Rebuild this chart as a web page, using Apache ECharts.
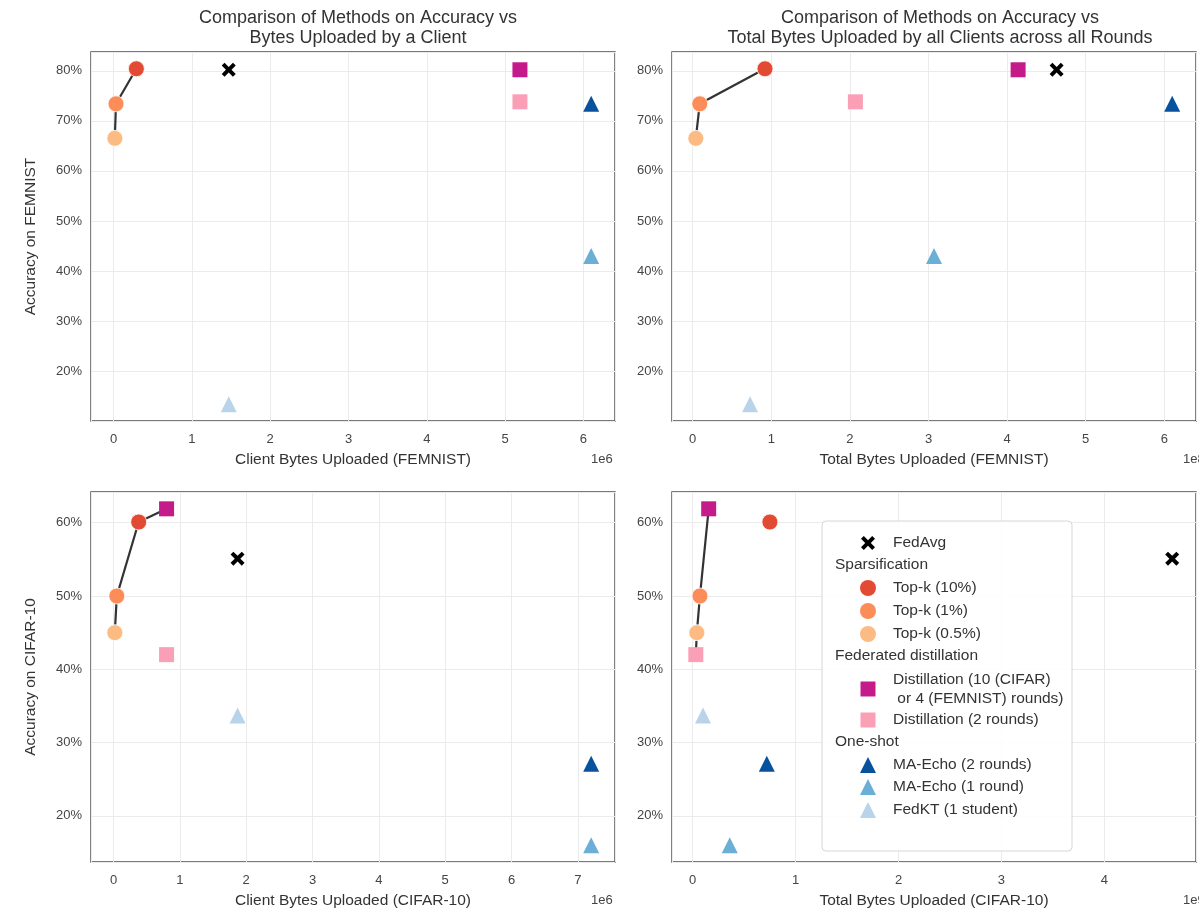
<!DOCTYPE html>
<html>
<head>
<meta charset="utf-8">
<script src="https://cdn.jsdelivr.net/npm/echarts@6/dist/echarts.min.js"></script>
<style>
html,body{margin:0;padding:0;background:#fff;}
#chart{width:1199px;height:915px;}
</style>
</head>
<body>
<div id="chart"></div>
<script>
// ---- data ----
const methods = ["FedAvg", "Top-k (10%)", "Top-k (1%)", "Top-k (0.5%)",
  "Distillation (10 (CIFAR)\n or 4 (FEMNIST) rounds)", "Distillation (2 rounds)",
  "MA-Echo (2 rounds)", "MA-Echo (1 round)", "FedKT (1 student)"];
const groups = ["Sparsification", "Federated distillation", "One-shot"];
// accuracy (%)
const accFEMNIST = [80.2, 80.4, 73.4, 66.5, 80.2, 73.8, 73.4, 43.0, 13.4];
const accCIFAR   = [55.1, 60.1, 50.0, 45.0, 61.9, 42.0, 27.1, 16.0, 33.7];
// bytes uploaded
const clientBytesFEMNIST = [1.47e6, 0.29e6, 0.03e6, 0.015e6, 5.19e6, 5.19e6, 6.1e6, 6.1e6, 1.47e6];
const totalBytesFEMNIST  = [4.63e8, 0.92e8, 0.09e8, 0.04e8, 4.14e8, 2.07e8, 6.1e8, 3.07e8, 0.73e8];
const clientBytesCIFAR   = [1.87e6, 0.38e6, 0.05e6, 0.02e6, 0.8e6, 0.8e6, 7.2e6, 7.2e6, 1.87e6];
const totalBytesCIFAR    = [4.66e9, 0.75e9, 0.07e9, 0.04e9, 0.155e9, 0.03e9, 0.72e9, 0.36e9, 0.10e9];
// pareto frontier (method indices) per panel
const frontierTL = [3, 2, 1];
const frontierTR = [3, 2, 1];
const frontierBL = [3, 2, 1, 4];
const frontierBR = [5, 3, 2, 4];
const xUnits = [1e6, 1e8, 1e6, 1e9];
const xUnitLabels = ["1e6", "1e8", "1e6", "1e9"];
const xNames = ["Client Bytes Uploaded (FEMNIST)", "Total Bytes Uploaded (FEMNIST)",
  "Client Bytes Uploaded (CIFAR-10)", "Total Bytes Uploaded (CIFAR-10)"];
const yNames = ["Accuracy on FEMNIST", "Accuracy on CIFAR-10"];
const titles = ["Comparison of Methods on Accuracy vs\nBytes Uploaded by a Client",
  "Comparison of Methods on Accuracy vs\nTotal Bytes Uploaded by all Clients across all Rounds"];

// ---- styles ----
const XPTS = [[2,0],[5,3],[8,0],[10,2],[7,5],[10,8],[8,10],[5,7],[2,10],[0,8],[3,5],[0,2]];
const XPATH = 'path://M2,0 L5,3 L8,0 L10,2 L7,5 L10,8 L8,10 L5,7 L2,10 L0,8 L3,5 L0,2 Z';
const colors = ['#000000', '#e34a33', '#fc8d59', '#fdbb84', '#c51b8a', '#fa9fb5', '#08519c', '#6baed6', '#b9d4ea'];
const symbols = [XPATH, 'circle', 'circle', 'circle', 'rect', 'rect', 'triangle', 'triangle', 'triangle'];
const sizes = [14, 16, 16, 16, 15, 15, 16, 16, 16];

const panels = [
  {x: clientBytesFEMNIST, y: accFEMNIST, f: frontierTL},
  {x: totalBytesFEMNIST,  y: accFEMNIST, f: frontierTR},
  {x: clientBytesCIFAR,   y: accCIFAR,   f: frontierBL},
  {x: totalBytesCIFAR,    y: accCIFAR,   f: frontierBR}
];
const gridBoxes = [
  {left: 91, top: 52, width: 524, height: 369},
  {left: 672, top: 52, width: 526, height: 369},
  {left: 91, top: 492, width: 524, height: 370},
  {left: 672, top: 492, width: 526, height: 370}
];
const FONT = 'Liberation Sans, Arial, sans-serif';

function ext(arr) {
  const mn = Math.min(...arr), mx = Math.max(...arr), m = 0.05 * (mx - mn);
  return [mn - m, mx + m];
}
function isMult(v, u) { const r = v / u; return Math.abs(r - Math.round(r)) < 1e-6; }

const grids = [], xAxes = [], yAxes = [], series = [], graphics = [];
panels.forEach((p, i) => {
  grids.push(Object.assign({show: true, borderColor: '#4d4d4d', borderWidth: 1.4, backgroundColor: '#fff'}, gridBoxes[i]));
  const xe = ext(p.x), ye = ext(p.y), u = xUnits[i];
  xAxes.push({
    gridIndex: i, type: 'value', min: xe[0], max: xe[1], minInterval: u, maxInterval: u, splitNumber: 8,
    axisLine: {show: false}, axisTick: {show: false},
    splitLine: {show: true, lineStyle: {color: '#ebebeb', width: 1}},
    axisLabel: {color: '#444', fontSize: 13, margin: 12, fontFamily: FONT,
      formatter: v => isMult(v, u) ? String(Math.round(v / u)) : ''},
    name: xNames[i], nameLocation: 'middle', nameGap: 31,
    nameTextStyle: {color: '#333', fontSize: 15.5, fontFamily: FONT}
  });
  yAxes.push({
    gridIndex: i, type: 'value', min: ye[0], max: ye[1], minInterval: 10, maxInterval: 10, splitNumber: 8,
    axisLine: {show: false}, axisTick: {show: false},
    splitLine: {show: true, lineStyle: {color: '#ebebeb', width: 1}},
    axisLabel: {color: '#444', fontSize: 13, margin: 9, fontFamily: FONT,
      formatter: v => isMult(v, 10) ? Math.round(v) + '%' : ''},
    name: (i % 2 === 0) ? yNames[i >> 1] : '', nameLocation: 'middle', nameGap: 52,
    nameTextStyle: {color: '#333', fontSize: 15.5, fontFamily: FONT}
  });
  series.push({
    type: 'line', xAxisIndex: i, yAxisIndex: i, z: 2, silent: true,
    data: p.f.map(k => [p.x[k], p.y[k]]), symbol: 'none',
    lineStyle: {color: '#333', width: 2.2}
  });
  methods.forEach((m, k) => {
    series.push({
      type: 'scatter', name: m, xAxisIndex: i, yAxisIndex: i, z: 3,
      symbol: symbols[k], symbolSize: sizes[k],
      itemStyle: {color: colors[k], opacity: 1, borderColor: '#fff', borderWidth: (k >= 1 && k <= 3) ? 0.8 : 0},
      data: [[p.x[k], p.y[k]]]
    });
  });
  const gb = gridBoxes[i];
  graphics.push({
    type: 'text', x: (i % 2 === 1) ? gb.left + gb.width - 15 : gb.left + gb.width - 24,
    y: gb.top + gb.height + 32,
    style: {text: xUnitLabels[i], fontSize: 13, fill: '#444', fontFamily: FONT}
  });
});

// legend (built as graphic, inside bottom-right panel)
const L = {x: 822, y: 521, w: 250, h: 330};
graphics.push({type: 'rect', shape: {x: L.x, y: L.y, width: L.w, height: L.h, r: 4},
  style: {fill: 'rgba(255,255,255,0.9)', stroke: '#d6d6d6', lineWidth: 1}, z: 10});
const legendRows = [
  {k: 0, y: 543}, {h: groups[0], y: 565}, {k: 1, y: 588}, {k: 2, y: 611}, {k: 3, y: 634},
  {h: groups[1], y: 656}, {k: 4, y: 689}, {k: 5, y: 720}, {h: groups[2], y: 742},
  {k: 6, y: 765}, {k: 7, y: 787}, {k: 8, y: 810}
];
legendRows.forEach(r => {
  if (r.h !== undefined) {
    graphics.push({type: 'text', x: 835, y: r.y, z: 11,
      style: {text: r.h, fontSize: 15.5, fill: '#333', verticalAlign: 'middle', fontFamily: FONT}});
    return;
  }
  const k = r.k, cx = 868, cy = r.y, s = sizes[k];
  let g;
  if (symbols[k] === 'circle') g = {type: 'circle', shape: {cx: cx, cy: cy, r: s / 2}};
  else if (symbols[k] === 'rect') g = {type: 'rect', shape: {x: cx - s / 2, y: cy - s / 2, width: s, height: s}};
  else if (symbols[k] === 'triangle') g = {type: 'polygon', shape: {points: [[cx, cy - s / 2], [cx + s / 2, cy + s / 2], [cx - s / 2, cy + s / 2]]}};
  else g = {type: 'polygon', shape: {points: XPTS.map(q => [cx - s / 2 + q[0] * s / 10, cy - s / 2 + q[1] * s / 10])}};
  g.z = 11; g.style = {fill: colors[k]};
  graphics.push(g);
  graphics.push({type: 'text', x: 893, y: r.y, z: 11,
    style: {text: methods[k], fontSize: 15.5, fill: '#333', verticalAlign: 'middle', lineHeight: 19, fontFamily: FONT}});
});

const option = {
  backgroundColor: '#fff',
  animation: false,
  title: [
    {text: titles[0], left: 353, top: 3, textAlign: 'center',
      textStyle: {fontSize: 18, fontWeight: 'normal', color: '#333', lineHeight: 20, fontFamily: FONT}},
    {text: titles[1], left: 935, top: 3, textAlign: 'center',
      textStyle: {fontSize: 18, fontWeight: 'normal', color: '#333', lineHeight: 20, fontFamily: FONT}}
  ],
  grid: grids, xAxis: xAxes, yAxis: yAxes, series: series, graphic: graphics
};
const chart = echarts.init(document.getElementById('chart'), null, {renderer: 'canvas'});
chart.setOption(option);
</script>
</body>
</html>
